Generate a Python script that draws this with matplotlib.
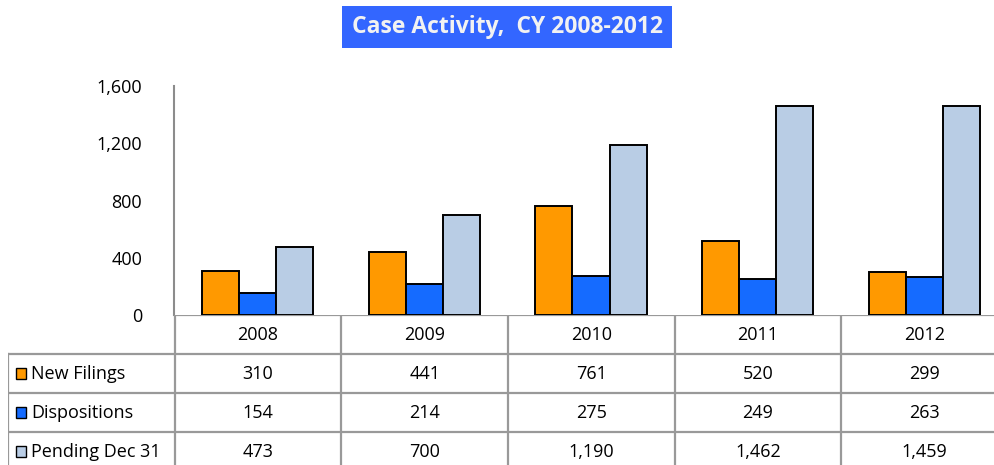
import matplotlib.pyplot as plt
from matplotlib.patches import Rectangle

years = ['2008', '2009', '2010', '2011', '2012']
series = ['New Filings', 'Dispositions', 'Pending Dec 31']
new_filings = [310, 441, 761, 520, 299]
dispositions = [154, 214, 275, 249, 263]
pending = [473, 700, 1190, 1462, 1459]
colors = ['#FF9900', '#156BFF', '#B9CDE5']
y_ticks = [0, 400, 800, 1200, 1600]

plt.rcParams['font.family'] = ['Open Sans', 'DejaVu Sans']

W, H = 995, 465
fig = plt.figure(figsize=(W / 100, H / 100), dpi=100)

def px(x0, y0, x1, y1):
    # pixel box (top-left origin) -> figure fraction rect
    return [x0 / W, (H - y1) / H, (x1 - x0) / W, (y1 - y0) / H]

fs = 13

# bars
ax = fig.add_axes(px(174, 86, 1008, 315))
data = [new_filings, dispositions, pending]
bw = 0.222
for k, vals in enumerate(data):
    xs = [i + 0.5 + (k - 1) * bw for i in range(len(years))]
    ax.bar(xs, vals, width=bw, color=colors[k], edgecolor='black', linewidth=1.4, zorder=3)
ax.set_xlim(0, len(years))
ax.set_ylim(0, 1600)
ax.set_yticks(y_ticks)
ax.set_yticklabels([f'{v:,}' for v in y_ticks], fontsize=fs)
ax.tick_params(axis='y', length=0, pad=23)
ax.set_xticks([])
for s in ['top', 'right', 'bottom']:
    ax.spines[s].set_visible(False)
ax.spines['left'].set_color('#8C8C8C')
ax.spines['left'].set_linewidth(1.5)

# data table
tax = fig.add_axes(px(8, 315, 1008, 471))
tax.set_xlim(-1, len(years))
tax.set_ylim(4, 0)
tax.axis('off')
lc = '#999999'
lw = 1.6
tax.plot([0, len(years)], [0, 0], color=lc, lw=lw)
for r in range(1, 5):
    tax.plot([-1, len(years)], [r, r], color=lc, lw=lw)
for c in range(0, len(years) + 1):
    tax.plot([c, c], [0, 4], color=lc, lw=lw)
tax.plot([-1, -1], [1, 4], color=lc, lw=lw)
for i, y in enumerate(years):
    tax.text(i + 0.5, 0.5, y, ha='center', va='center', fontsize=fs)
for k, vals in enumerate(data):
    row = k + 1
    tax.add_patch(Rectangle((-0.955, row + 0.36), 0.063, 0.29, facecolor=colors[k],
                            edgecolor='black', lw=1.0, clip_on=False))
    tax.text(-0.86, row + 0.5, series[k], ha='left', va='center', fontsize=fs)
    for i, v in enumerate(vals):
        tax.text(i + 0.5, row + 0.5, f'{v:,}', ha='center', va='center', fontsize=fs)

# title
fig.text(507 / W, 1 - 27 / H, 'Case Activity,  CY 2008-2012', ha='center', va='center',
         fontsize=16.5, fontweight='bold', color='#F2F2F2',
         bbox=dict(boxstyle='square,pad=0.4', facecolor='#3366FF', edgecolor='none'))

fig.savefig('out.png', dpi=100)
